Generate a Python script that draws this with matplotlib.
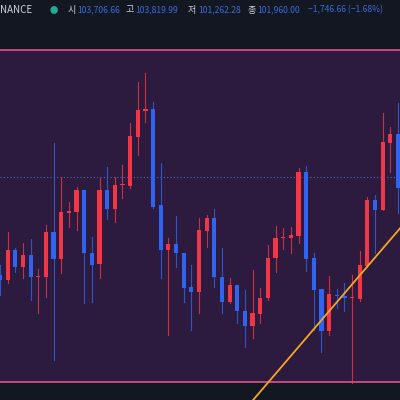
import numpy as np
import matplotlib.pyplot as plt
from matplotlib.patches import Rectangle

plt.rcParams['font.family'] = ['Noto Sans CJK KR', 'DejaVu Sans']

# candles: open, high, low, close (price = 400 - pixel row)
opens = [125, 120, 150, 133, 145, 123, 123, 168, 141, 187, 188, 210, 147, 136, 210, 191, 215, 214, 263, 289,
         291, 195, 150, 156, 147, 113, 108, 169, 182, 123, 98, 115, 89, 74, 86, 102, 142, 162, 162, 164,
         228, 142, 111, 69, 105, 104, 102, 101, 134, 200, 190, 257, 266]
highs = [135, 168, 152, 157, 161, 131, 175, 257, 223, 198, 213, 210, 163, 222, 233, 223, 235, 277, 318, 327,
         298, 237, 162, 184, 147, 135, 182, 185, 191, 152, 122, 115, 110, 130, 112, 155, 174, 172, 173, 232,
         234, 147, 111, 124, 111, 117, 125, 149, 203, 205, 287, 273, 297]
lows = [105, 117, 128, 122, 100, 87, 103, 40, 127, 173, 170, 97, 98, 122, 181, 178, 202, 212, 245, 278,
        192, 122, 65, 133, 98, 70, 87, 153, 113, 87, 97, 77, 53, 62, 77, 100, 128, 151, 147, 157,
        129, 70, 48, 65, 92, 89, 17, 99, 133, 147, 190, 228, 187]
closes = [120, 150, 133, 145, 123, 123, 168, 141, 188, 189, 210, 147, 135, 210, 191, 215, 215, 264, 290, 291,
          193, 150, 156, 147, 112, 108, 170, 182, 123, 98, 115, 89, 74, 87, 102, 142, 162, 162, 165, 228,
          141, 110, 69, 106, 104, 102, 102, 135, 200, 190, 258, 266, 212]

trend_x = [33.07, 52.3]
trend_y = [0, 172]
ref_price = 223

hdr_labels = ['시', '고', '저', '종']
hdr_values = ['103,706.66', '103,819.99', '101,262.28', '101,960.00']
hdr_change = '−1,746.66 (−1.68%)'

up_col = '#f23645'
dn_col = '#2f63f0'
bg = '#131722'
panel = '#2d1b3f'

fig = plt.figure(figsize=(4, 4), dpi=100)
fig.patch.set_facecolor(bg)
ax = fig.add_axes([0, 0, 1, 1])
ax.set_facecolor(bg)
ax.set_xlim(0, 52.26)
ax.set_ylim(0, 400)
ax.axis('off')

# purple box with pink border
ax.add_patch(Rectangle((-1, 18), 60, 332, facecolor=panel, edgecolor='none', zorder=0))
ax.axhline(350, color='#e0508a', lw=1.2, zorder=1)
ax.axhline(18, color='#e0508a', lw=1.2, zorder=1)
ax.axhline(ref_price, color='#5468b0', lw=0.8, ls=(0, (1, 2)), zorder=1)

w = 0.55
for i, (o, h, l, c) in enumerate(zip(opens, highs, lows, closes)):
    col = up_col if c >= o else dn_col
    ax.plot([i, i], [l, h], color=col, lw=0.8, alpha=0.8, zorder=2)
    bot = min(o, c)
    ht = max(abs(c - o), 1.2)
    ax.add_patch(Rectangle((i - w / 2, bot), w, ht, facecolor=col, edgecolor='none', zorder=3))

ax.plot(trend_x, trend_y, color='#f5a623', lw=1.3, zorder=4)

# header
fig.text(0.0, 0.975, 'NANCE', color='#d1d4dc', fontsize=7, va='center')
fig.text(0.125, 0.975, '●', color='#22ab94', fontsize=6, va='center')
lab_x = [0.168, 0.313, 0.47, 0.618]
for lx, lab, val in zip(lab_x, hdr_labels, hdr_values):
    fig.text(lx, 0.975, lab, color='#d1d4dc', fontsize=6.5, va='center')
    fig.text(lx + 0.026, 0.975, val, color='#3d6ad6', fontsize=6.2, va='center')
fig.text(0.77, 0.975, hdr_change, color='#3d6ad6', fontsize=6.2, va='center')

fig.savefig('out.png', dpi=100, facecolor=bg)
